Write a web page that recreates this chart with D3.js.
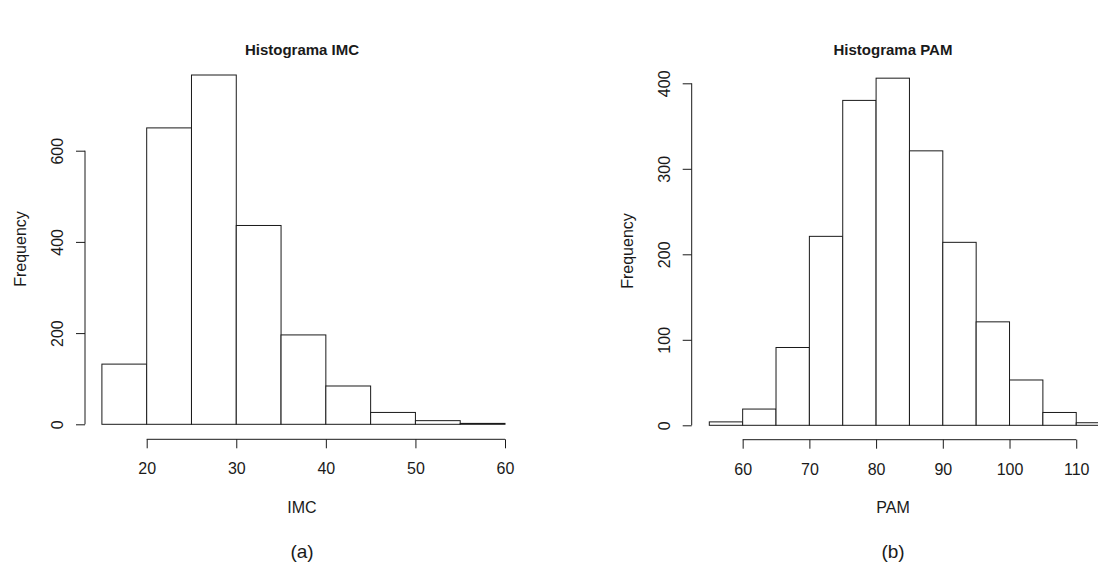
<!DOCTYPE html>
<html>
<head>
<meta charset="utf-8">
<script src="https://cdn.jsdelivr.net/npm/d3@7"></script>
<style>
  html, body { margin: 0; padding: 0; background: #fff; }
  svg { display: block; font-family: "Liberation Sans", Arial, sans-serif; }
  text { fill: #1a1a1a; }
</style>
</head>
<body>
<svg id="chart" width="1098" height="570"></svg>
<script>
// IMC histogram: bins of width 5 starting at 15
const imcBreaks = [15, 20, 25, 30, 35, 40, 45, 50, 55, 60];
const imcCounts = [132, 650, 766, 436, 196, 84, 26, 8, 2];
const imcXTicks = [20, 30, 40, 50, 60];
const imcYTicks = [0, 200, 400, 600];

// PAM histogram: bins of width 5 starting at 55
const pamBreaks = [55, 60, 65, 70, 75, 80, 85, 90, 95, 100, 105, 110, 115];
const pamCounts = [4, 19, 91, 221, 380, 406, 321, 214, 121, 53, 15, 3];
const pamXTicks = [60, 70, 80, 90, 100, 110];
const pamYTicks = [0, 100, 200, 300, 400];

const svg = d3.select("#chart");
const ink = "#1a1a1a";

function histogram(cfg) {
  const g = svg.append("g");
  const x = d3.scaleLinear().domain(cfg.xDomain).range(cfg.xRange);
  const y = d3.scaleLinear().domain(cfg.yDomain).range(cfg.yRange);

  const bins = cfg.counts.map((c, i) => ({ x0: cfg.breaks[i], x1: cfg.breaks[i + 1], n: c }));

  g.selectAll("rect.bar")
    .data(bins)
    .join("rect")
    .attr("class", "bar")
    .attr("x", d => x(d.x0))
    .attr("y", d => y(d.n))
    .attr("width", d => x(d.x1) - x(d.x0))
    .attr("height", d => y(0) - y(d.n))
    .attr("fill", "#fff")
    .attr("stroke", ink)
    .attr("stroke-width", 1);

  // y axis, R style: labels parallel to the axis
  const yAxis = d3.axisLeft(y).tickValues(cfg.yTicks).tickSize(9).tickSizeOuter(0).tickFormat(d3.format("d"));
  const ya = g.append("g").attr("transform", `translate(${cfg.yAxisX},0)`).call(yAxis);
  ya.select(".domain").remove();
  ya.selectAll(".tick line").attr("stroke", ink);
  ya.selectAll(".tick text")
    .attr("x", null).attr("dy", null)
    .attr("transform", "translate(-22,0) rotate(-90)")
    .attr("text-anchor", "middle")
    .attr("font-size", 16)
    .attr("fill", ink);
  ya.append("line")
    .attr("x1", 0).attr("x2", 0)
    .attr("y1", y(cfg.yTicks[0])).attr("y2", y(cfg.yTicks[cfg.yTicks.length - 1]))
    .attr("stroke", ink);

  // x axis spanning first to last labelled tick
  const xAxis = d3.axisBottom(x).tickValues(cfg.xTicks).tickSize(9).tickSizeOuter(0).tickFormat(d3.format("d"));
  const xa = g.append("g").attr("transform", `translate(0,${cfg.xAxisY})`).call(xAxis);
  xa.select(".domain").remove();
  xa.selectAll(".tick line").attr("stroke", ink);
  xa.selectAll(".tick text")
    .attr("y", 35).attr("dy", null)
    .attr("font-size", 16)
    .attr("fill", ink);
  xa.append("line")
    .attr("x1", x(cfg.xTicks[0])).attr("x2", x(cfg.xTicks[cfg.xTicks.length - 1]))
    .attr("y1", 0).attr("y2", 0)
    .attr("stroke", ink);

  // titles and labels
  g.append("text")
    .attr("x", cfg.centerX).attr("y", 55)
    .attr("text-anchor", "middle")
    .attr("font-weight", "bold")
    .attr("font-size", 15)
    .text(cfg.title);
  g.append("text")
    .attr("x", cfg.centerX).attr("y", 513)
    .attr("text-anchor", "middle")
    .attr("font-size", 16)
    .text(cfg.xLabel);
  g.append("text")
    .attr("transform", `translate(${cfg.yAxisX - 59},${cfg.yLabelY}) rotate(-90)`)
    .attr("text-anchor", "middle")
    .attr("font-size", 16)
    .text("Frequency");
  g.append("text")
    .attr("x", cfg.centerX).attr("y", 558)
    .attr("text-anchor", "middle")
    .attr("font-size", 19)
    .text(cfg.panel);
}

histogram({
  breaks: imcBreaks, counts: imcCounts,
  xTicks: imcXTicks, yTicks: imcYTicks,
  xDomain: [15, 60], xRange: [101.9, 505],
  yDomain: [0, 600], yRange: [424.3, 150.7],
  yAxisX: 85, xAxisY: 439.3,
  centerX: 302, yLabelY: 249,
  title: "Histograma IMC", xLabel: "IMC", panel: "(a)"
});

histogram({
  breaks: pamBreaks, counts: pamCounts,
  xTicks: pamXTicks, yTicks: pamYTicks,
  xDomain: [55, 115], xRange: [709.3, 1109.6],
  yDomain: [0, 400], yRange: [425.3, 83.3],
  yAxisX: 691.7, xAxisY: 439.7,
  centerX: 893, yLabelY: 251,
  title: "Histograma PAM", xLabel: "PAM", panel: "(b)"
});
</script>
</body>
</html>
